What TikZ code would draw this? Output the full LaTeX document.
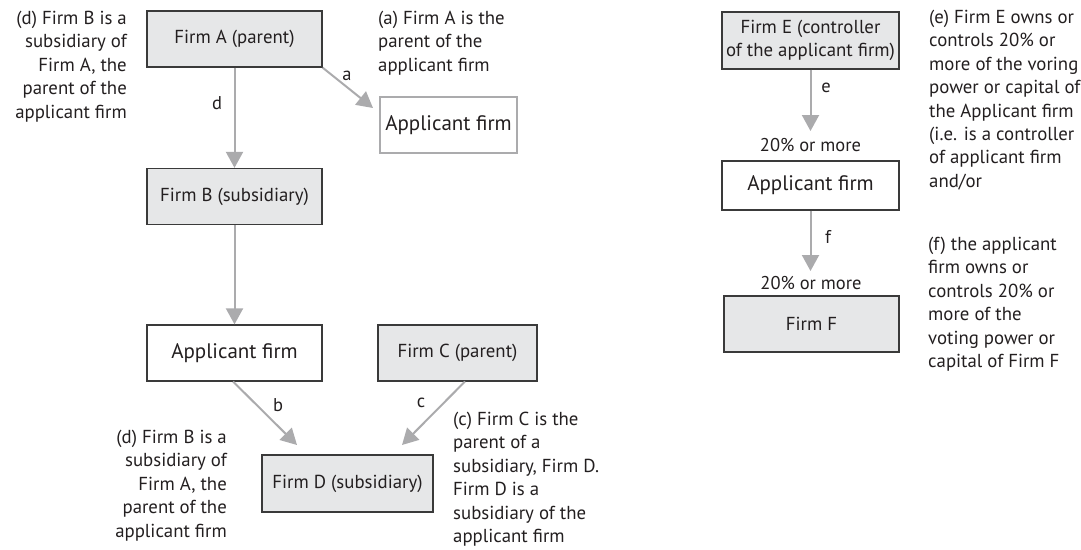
\documentclass[tikz,border=0pt]{standalone}
\usepackage{fontspec}
\setmainfont{PT Sans}
\usetikzlibrary{arrows.meta}
\definecolor{boxfill}{HTML}{E6E7E8}
\definecolor{boxline}{HTML}{3A3A3A}
\definecolor{arr}{HTML}{ABABAD}
\definecolor{txt}{HTML}{231F20}
\begin{document}
\begin{tikzpicture}[x=1pt,y=-1pt,
  firm/.style={draw=boxline,line width=1.3pt,fill=boxfill,minimum width=#1,minimum height=56pt,inner sep=0pt,text=txt,font=\fontsize{18.8}{22.5}\selectfont,align=center},
  firm/.default=175pt,
  appl/.style={draw=boxline,line width=1.3pt,fill=white,minimum width=175pt,minimum height=56pt,inner sep=0pt,text=txt,font=\fontsize{21}{25}\selectfont},
  conn/.style={draw=arr,line width=2pt,-{Triangle[width=17pt,length=16pt]}},
  lbl/.style={text=txt,font=\fontsize{18.5}{22}\selectfont,inner sep=0pt},
  note/.style={text=txt,font=\fontsize{18.8}{23.4}\selectfont,inner sep=0pt}]
\useasboundingbox (0,0) rectangle (1081,549);
% boxes
\node[firm] (A) at (234.5,39) {Firm A (parent)};
\node[appl,draw=arr,line width=2.6pt,minimum width=137pt] (Atop) at (448.5,125) {Applicant firm};
\node[firm] (B) at (234.5,196.5) {Firm B (subsidiary)};
\node[appl] (Amid) at (234.5,353) {Applicant firm};
\node[firm=159pt] (C) at (457.5,353) {Firm C (parent)};
\node[firm=171pt,minimum height=57pt] (D) at (347.5,483.5) {Firm D (subsidiary)};
\node[firm=177pt,minimum height=57pt] (E) at (810.5,40.5) {Firm E (controller\\of the applicant firm)};
\node[appl,minimum width=177pt,minimum height=49pt] (Aright) at (810.5,185.5) {Applicant firm};
\node[firm=175pt] (F) at (811.5,324) {Firm F};
% connectors
\coordinate (tA) at (373,108);
\draw[conn] (A.south east) -- (tA);
\draw[conn] (A.south) -- (B.north);
\draw[conn] (B.south) -- (Amid.north);
\coordinate (bS) at (233,381.5);
\coordinate (bT) at (297,445);
\draw[conn] (bS) -- (bT);
\coordinate (cS) at (465,381.5);
\coordinate (cT) at (402,445);
\draw[conn] (cS) -- (cT);
\coordinate (eT) at (810.5,131);
\draw[conn] (E.south) -- (eT);
\coordinate (fT) at (810.5,271);
\draw[conn] (Aright.south) -- (fT);
% connector labels
\node[lbl] (la) at (347,76) {a};
\node[lbl] (ld) at (217,103) {d};
\node[lbl] (lb) at (278,405) {b};
\node[lbl] (lc) at (421,403) {c};
\node[lbl] (le) at (826,88) {e};
\node[lbl] (lf) at (828,237) {f};
\node[lbl] (pe) at (810.5,145) {20\% or more};
\node[lbl] (pf) at (811,283) {20\% or more};
% notes
\node[note,align=right,anchor=north east] (nd1) at (127,11) {(d) Firm B is a\\subsidiary of\\Firm A, the\\parent of the\\applicant firm};
\node[note,align=left,anchor=north west] (na) at (378,11) {(a) Firm A is the\\parent of the\\applicant firm};
\node[note,align=right,anchor=north east] (nd2) at (227,430) {(d) Firm B is a\\subsidiary of\\Firm A, the\\parent of the\\applicant firm};
\node[note,align=left,anchor=north west] (nc) at (453,412) {(c) Firm C is the\\parent of a\\subsidiary, Firm D.\\Firm D is a\\subsidiary of the\\applicant firm};
\node[note,align=left,anchor=north west] (ne) at (929,10) {(e) Firm E owns or\\controls 20\% or\\more of the voring\\power or capital of\\the Applicant firm\\(i.e. is a controller\\of applicant firm\\and/or};
\node[note,align=left,anchor=north west] (nf) at (928,237) {(f) the applicant\\firm owns or\\controls 20\% or\\more of the\\voting power or\\capital of Firm F};
\end{tikzpicture}
\end{document}
